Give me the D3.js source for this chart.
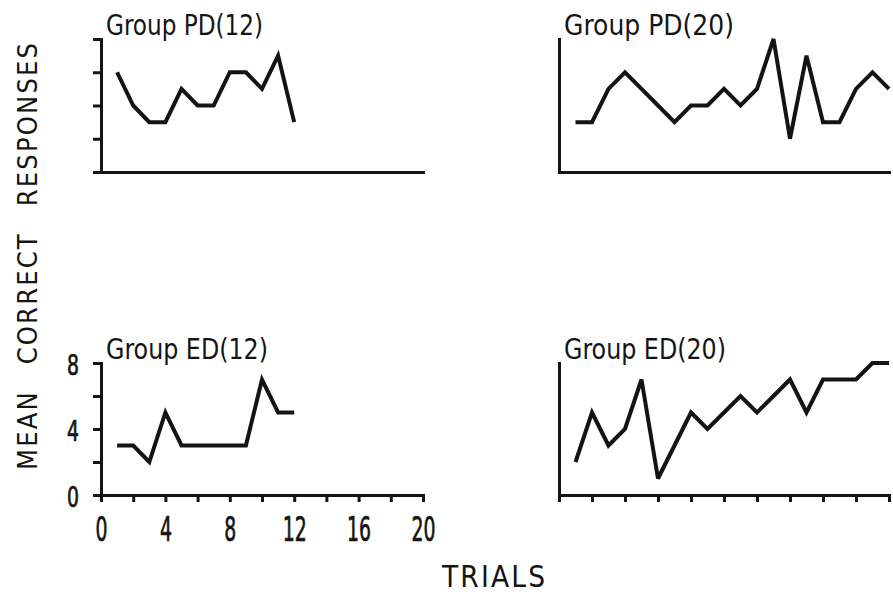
<!DOCTYPE html>
<html>
<head>
<meta charset="utf-8">
<script src="https://cdn.jsdelivr.net/npm/d3@7"></script>
<style>
  html, body { margin: 0; padding: 0; background: #fff; }
  svg { display: block; }
</style>
</head>
<body>
<svg id="chart" width="893" height="595"></svg>
<script>
// Trial numbers for the two conditions
const trials12 = [1, 2, 3, 4, 5, 6, 7, 8, 9, 10, 11, 12];
const trials20 = [1, 2, 3, 4, 5, 6, 7, 8, 9, 10, 11, 12, 13, 14, 15, 16, 17, 18, 19, 20];

// Mean correct responses per trial, one list per group
const pd12 = [6, 4, 3, 3, 5, 4, 4, 6, 6, 5, 7, 3];
const pd20 = [3, 3, 5, 6, 5, 4, 3, 4, 4, 5, 4, 5, 8, 2, 7, 3, 3, 5, 6, 5];
const ed12 = [3, 3, 2, 5, 3, 3, 3, 3, 3, 7, 5, 5];
const ed20 = [2, 5, 3, 4, 7, 1, 3, 5, 4, 5, 6, 5, 6, 7, 5, 7, 7, 7, 8, 8];

// Tick marks and the ones that carry a number
const xTickMarks = [0, 2, 4, 6, 8, 10, 12, 14, 16, 18, 20];
const xTickLabels = [0, 4, 8, 12, 16, 20];
const yTickMarks = [0, 2, 4, 6, 8];
const yTickLabels = [0, 4, 8];

const ink = "#141414";
const condensed = "'DejaVu Sans Condensed', 'DejaVu Sans', sans-serif";
const svg = d3.select("#chart");

const xLeft = d3.scaleLinear().domain([0, 20]).range([101, 423]);
const xRight = d3.scaleLinear().domain([0, 20]).range([559, 889]);
const yTop = d3.scaleLinear().domain([0, 8]).range([172, 39]);
const yBottom = d3.scaleLinear().domain([0, 8]).range([495, 363]);

const panels = [
  { title: "Group PD(12)", trials: trials12, values: pd12, x: xLeft,  y: yTop,    titleWidth: 157, yTicks: true,  xTicks: false, labels: false },
  { title: "Group PD(20)", trials: trials20, values: pd20, x: xRight, y: yTop,    titleWidth: 170, yTicks: false, xTicks: false, labels: false },
  { title: "Group ED(12)", trials: trials12, values: ed12, x: xLeft,  y: yBottom, titleWidth: 162, yTicks: true,  xTicks: true,  labels: true  },
  { title: "Group ED(20)", trials: trials20, values: ed20, x: xRight, y: yBottom, titleWidth: 162, yTicks: false, xTicks: true,  labels: false }
];

function styleAxis(g) {
  g.attr("font-family", null).attr("font-size", null);
  g.select(".domain")
    .attr("stroke", ink).attr("stroke-width", 3)
    .attr("stroke-linecap", "square").attr("fill", "none");
  g.selectAll(".tick line").attr("stroke", ink).attr("stroke-width", 3);
}

// Narrow, pen-weight numerals for the tick labels
function styleTickText(sel, size) {
  sel.attr("fill", ink)
    .attr("stroke", ink)
    .attr("stroke-width", 0.7)
    .attr("font-family", condensed)
    .attr("font-size", size)
    .each(function() {
      const s = d3.select(this).text();
      if (s) d3.select(this).attr("textLength", s.length * 12).attr("lengthAdjust", "spacingAndGlyphs");
    });
}

const line = d3.line().curve(d3.curveLinear);

panels.forEach(p => {
  const g = svg.append("g");

  // x axis
  const xAxis = d3.axisBottom(p.x)
    .tickValues(p.xTicks ? xTickMarks : [])
    .tickSize(7)
    .tickSizeOuter(0)
    .tickPadding(15)
    .tickFormat(d => (p.labels && xTickLabels.includes(d)) ? String(d) : "");
  const gx = g.append("g")
    .attr("transform", `translate(0,${p.y(0)})`)
    .call(xAxis)
    .call(styleAxis);
  gx.selectAll(".tick text").call(styleTickText, 34);

  // y axis
  const yAxis = d3.axisLeft(p.y)
    .tickValues(p.yTicks ? yTickMarks : [])
    .tickSize(8)
    .tickSizeOuter(0)
    .tickPadding(14)
    .tickFormat(d => (p.labels && yTickLabels.includes(d)) ? String(d) : "");
  const gy = g.append("g")
    .attr("transform", `translate(${p.x(0)},0)`)
    .call(yAxis)
    .call(styleAxis);
  gy.selectAll(".tick text").call(styleTickText, 27.5).attr("dy", "0.42em");

  // panel title
  g.append("text")
    .attr("x", p.x(0) + 5)
    .attr("y", p.y(8) - 4.5)
    .attr("fill", ink)
    .attr("font-family", condensed)
    .attr("font-size", 27.5)
    .attr("textLength", p.titleWidth)
    .attr("lengthAdjust", "spacingAndGlyphs")
    .text(p.title);

  // response curve
  const pts = p.trials.map((t, i) => [p.x(t), p.y(p.values[i])]);
  g.append("path")
    .attr("d", line(pts))
    .attr("fill", "none")
    .attr("stroke", ink)
    .attr("stroke-width", 4)
    .attr("stroke-linejoin", "miter")
    .attr("stroke-miterlimit", 3);
});

// shared axis titles, lettered with open spacing
svg.append("text")
  .attr("transform", "translate(37,256.5) rotate(-90)")
  .attr("text-anchor", "middle")
  .attr("fill", ink)
  .attr("font-family", condensed)
  .attr("font-size", 27)
  .style("word-spacing", "16px")
  .attr("textLength", 427)
  .attr("lengthAdjust", "spacing")
  .text("MEAN CORRECT RESPONSES");

svg.append("text")
  .attr("x", 493.5)
  .attr("y", 587)
  .attr("text-anchor", "middle")
  .attr("fill", ink)
  .attr("font-family", condensed)
  .attr("font-size", 29.5)
  .attr("textLength", 103)
  .attr("lengthAdjust", "spacing")
  .text("TRIALS");
</script>
</body>
</html>
